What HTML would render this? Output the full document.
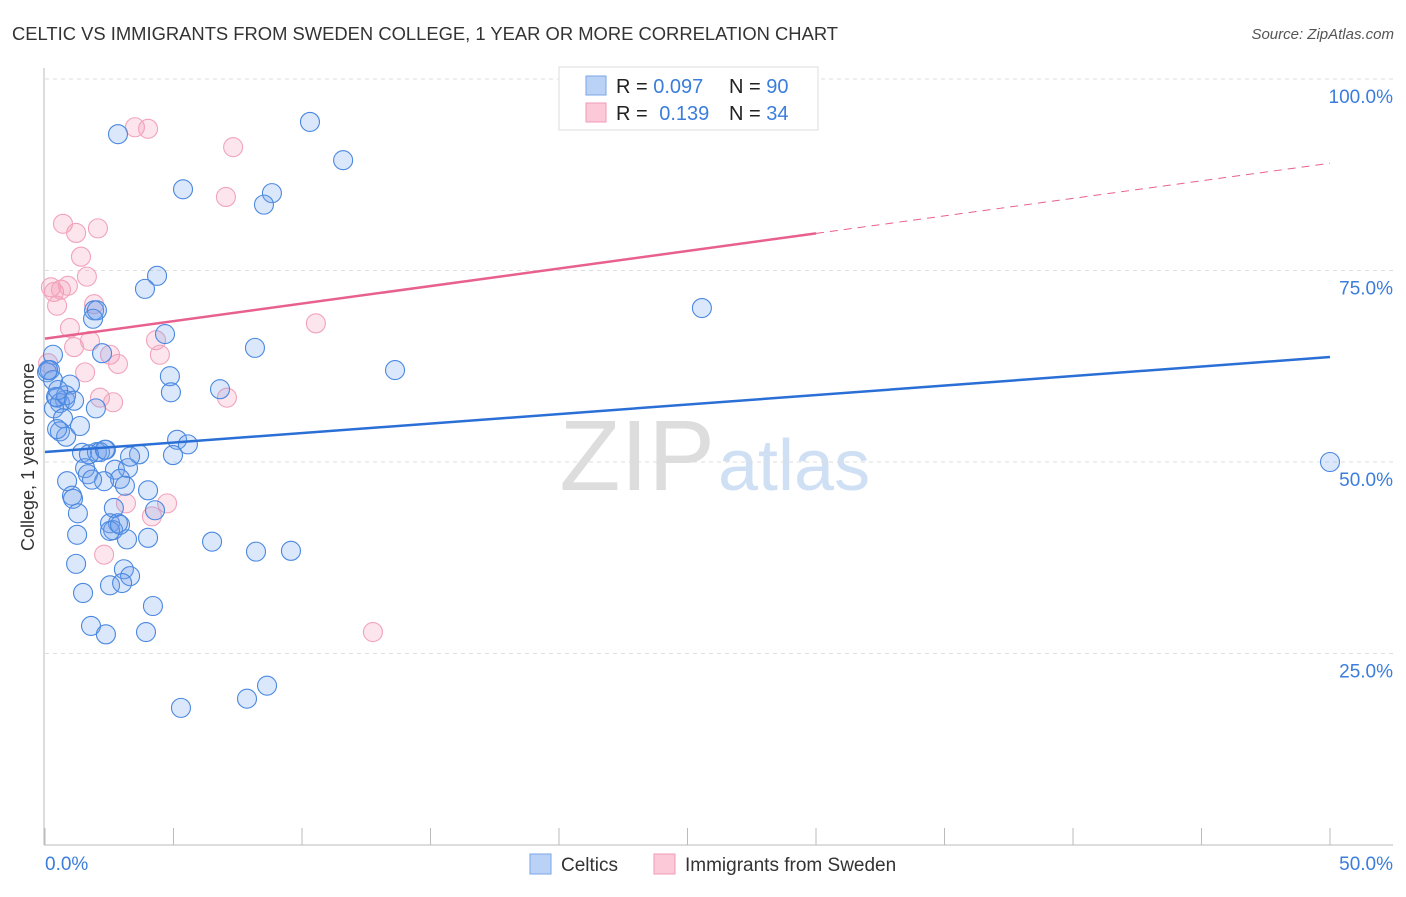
<!DOCTYPE html>
<html><head><meta charset="utf-8"><style>
body{margin:0;background:#fff;font-family:"Liberation Sans",sans-serif;}
svg text{font-family:"Liberation Sans",sans-serif;}
</style></head><body>
<svg id="chart" width="1406" height="892" xmlns="http://www.w3.org/2000/svg">
<text x="12" y="40" font-size="18" fill="#333" textLength="826" lengthAdjust="spacingAndGlyphs">CELTIC VS IMMIGRANTS FROM SWEDEN COLLEGE, 1 YEAR OR MORE CORRELATION CHART</text>
<text x="1394" y="39" font-size="15" fill="#555" font-style="italic" text-anchor="end">Source: ZipAtlas.com</text>
<text x="715" y="490" font-size="100" fill="#ddd" text-anchor="end" font-family="Liberation Serif">ZIP</text>
<text x="718" y="490" font-size="72" fill="#cfe0f5">atlas</text>
<g id="grid"></g>
<g id="axes"></g>
<g id="pts"></g>
<g id="trend"></g>
<text transform="translate(34,457) rotate(-90)" font-size="18" fill="#333" text-anchor="middle">College, 1 year or more</text>
<g>
<rect x="559" y="67" width="259" height="63" fill="#fff" stroke="#ddd"/>
<rect x="586" y="76" width="20" height="19" fill="#b9d2f5" stroke="#7aa5e6"/>
<rect x="586" y="103" width="20" height="19" fill="#fbc9d7" stroke="#f09ab5"/>
<text x="616" y="93" font-size="20" fill="#222">R = <tspan fill="#3b7ddd">0.097</tspan></text>
<text x="729" y="93" font-size="20" fill="#222">N = <tspan fill="#3b7ddd">90</tspan></text>
<text x="616" y="120" font-size="20" fill="#222">R = <tspan fill="#3b7ddd" dx="6">0.139</tspan></text>
<text x="729" y="120" font-size="20" fill="#222">N = <tspan fill="#3b7ddd">34</tspan></text>
</g>
<g>
<rect x="530" y="854" width="21" height="20" fill="#b9d2f5" stroke="#7aa5e6"/>
<text x="561" y="871" font-size="19" fill="#333">Celtics</text>
<rect x="654" y="854" width="21" height="20" fill="#fbc9d7" stroke="#f09ab5"/>
<text x="685" y="871" font-size="19" fill="#333">Immigrants from Sweden</text>
</g>
</svg>
<script>
const blueX=[2.84,10.31,11.60,5.37,8.83,8.52,4.36,3.89,1.91,2.02,1.87,4.67,25.56,2.22,8.17,0.31,0.19,0.08,0.31,0.97,4.86,13.62,6.81,4.90,0.47,0.78,0.58,1.98,0.35,0.70,1.36,0.58,0.82,5.14,5.56,4.98,3.66,1.44,2.02,2.37,2.14,1.56,2.72,3.23,1.67,2.92,0.86,2.30,3.11,4.01,1.05,1.09,4.28,2.68,1.28,2.53,2.84,2.65,2.53,3.19,4.01,1.25,6.50,8.21,9.57,1.21,3.07,3.31,2.53,3.00,1.48,4.20,1.79,2.37,3.93,5.29,7.86,8.64,50.0,1.71,0.12,0.43,0.82,1.13,0.47,1.83,2.33,0.51,3.31,2.92];
const blueY=[92.8,94.4,89.4,85.6,85.1,83.6,74.3,72.6,69.8,69.8,68.7,66.7,70.1,64.2,64.9,64.0,62.0,61.7,60.7,60.1,61.2,62.0,59.5,59.1,58.4,58.1,57.7,57.0,57.0,55.7,54.7,54.0,53.3,52.9,52.3,50.9,51.0,51.2,51.3,51.6,51.3,49.2,49.0,49.2,48.4,47.8,47.5,47.5,46.9,46.3,45.6,45.2,43.7,44.0,43.3,42.0,42.0,41.1,41.0,39.9,40.1,40.5,39.6,38.3,38.4,36.7,36.0,35.1,33.9,34.2,32.9,31.2,28.6,27.5,27.8,17.9,19.1,20.8,50.0,51.0,62.0,58.5,58.7,58.0,54.3,47.7,51.6,59.4,50.7,41.8];
const pinkX=[27.04,3.50,4.01,7.32,7.04,0.70,1.21,2.06,1.40,0.23,1.63,0.35,0.62,0.89,0.47,1.91,0.97,10.54,1.13,1.75,4.32,4.47,2.53,2.84,1.56,0.12,7.08,2.14,2.65,3.15,4.75,4.16,2.30,12.76];
const pinkY=[99.9,93.7,93.5,91.1,84.6,81.1,79.9,80.5,76.8,72.8,74.2,72.2,72.5,73.0,70.4,70.6,67.5,68.1,65.0,65.8,65.9,64.0,64.0,62.8,61.7,62.9,58.4,58.4,57.8,44.6,44.6,42.9,37.9,27.8];
const yTicks=[25,50,75,100];
const yTickLabels=["25.0%","50.0%","75.0%","100.0%"];
const xTicks=[0,5,10,15,20,25,30,35,40,45,50];
const blueTrend=[51.3,63.7];
const pinkTrend=[66.1,89.0];
const pinkSolidEnd=30;

const NS="http://www.w3.org/2000/svg";
const sx=v=>45+v*25.7, sy=v=>845-v*7.66;
function mk(p,t,a){const e=document.createElementNS(NS,t);for(const k in a)e.setAttribute(k,a[k]);p.appendChild(e);return e;}
const grid=document.getElementById('grid'),axes=document.getElementById('axes'),pts=document.getElementById('pts'),trend=document.getElementById('trend');
yTicks.forEach((t,i)=>{
 const l=mk(grid,'line',{x1:45,x2:1393,y1:sy(t),y2:sy(t),stroke:'#ddd','stroke-dasharray':'4,4'});
 
 
 const tx=mk(grid,'text',{x:1393,y:sy(t)+24,'font-size':19,fill:'#3b7ddd','text-anchor':'end'});
 tx.textContent=yTickLabels[i];
 
 
});
let a=mk(axes,'line',{x1:44,x2:44,y1:68,y2:845,stroke:'#bbb'});


a=mk(axes,'line',{x1:44,x2:1393,y1:845,y2:845,stroke:'#bbb'});


xTicks.forEach(t=>{
 const l=mk(axes,'line',{x1:sx(t),x2:sx(t),y1:828,y2:845,stroke:'#bbb'});
 
 
});
let xl=mk(axes,'text',{x:45,y:870,'font-size':19,fill:'#3b7ddd'});xl.textContent='0.0%';


xl=mk(axes,'text',{x:1393,y:870,'font-size':19,fill:'#3b7ddd','text-anchor':'end'});xl.textContent='50.0%';


pinkX.forEach((x,i)=>{
 const c=mk(pts,'circle',{cx:sx(x),cy:sy(pinkY[i]),r:9.5,fill:'rgba(245,150,180,0.25)',stroke:'#f2a3bb','stroke-width':1.1});
 
 
});
blueX.forEach((x,i)=>{
 const c=mk(pts,'circle',{cx:sx(x),cy:sy(blueY[i]),r:9.5,fill:'rgba(110,160,235,0.25)',stroke:'#4a88e0','stroke-width':1.1});
 
 
});
let t=mk(trend,'line',{x1:sx(0),y1:sy(blueTrend[0]),x2:sx(50),y2:sy(blueTrend[1]),stroke:'#2a6fd6','stroke-width':2.5});


const pAt=x=>pinkTrend[0]+(pinkTrend[1]-pinkTrend[0])*x/50;
t=mk(trend,'line',{x1:sx(0),y1:sy(pinkTrend[0]),x2:sx(pinkSolidEnd),y2:sy(pAt(pinkSolidEnd)),stroke:'#e8608e','stroke-width':2.5});


t=mk(trend,'line',{x1:sx(pinkSolidEnd),y1:sy(pAt(pinkSolidEnd)),x2:sx(50),y2:sy(pinkTrend[1]),stroke:'#e8608e','stroke-width':1,'stroke-dasharray':'8,6'});


</script>
</body></html>
